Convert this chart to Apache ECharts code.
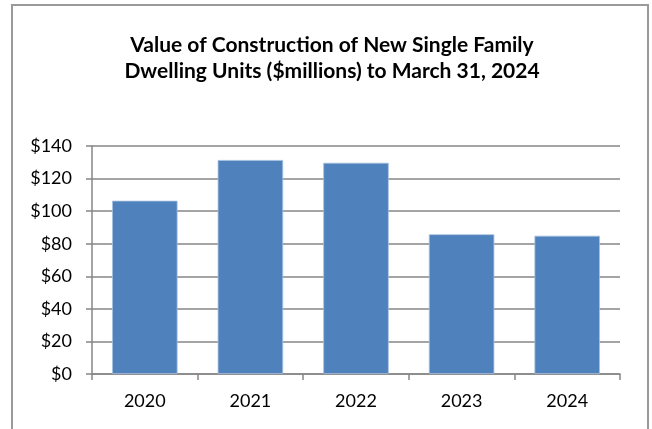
<!DOCTYPE html>
<html>
<head>
<meta charset="utf-8">
<script src="https://cdn.jsdelivr.net/npm/echarts@6/dist/echarts.min.js"></script>
<style>
  html, body { margin: 0; padding: 0; background: #fff; }
  #chart { width: 652px; height: 429px; }
</style>
</head>
<body>
<div id="chart"></div>
<script>
// Annual value of new single family dwelling construction, $ millions
const years = ['2020', '2021', '2022', '2023', '2024'];
const values = [106.4, 131.4, 129.7, 85.8, 84.9];
const yTicks = [0, 20, 40, 60, 80, 100, 120, 140];

const font = 'Lato, "Liberation Sans", sans-serif';
const chart = echarts.init(document.getElementById('chart'), null, { renderer: 'canvas' });

chart.setOption({
  animation: false,
  backgroundColor: '#ffffff',
  graphic: [{
    type: 'rect',
    shape: { x: 12, y: 5, width: 636, height: 450 },
    style: { fill: 'none', stroke: '#9a9a9a', lineWidth: 2 },
    silent: true,
    z: -1
  }],
  title: {
    text: 'Value of Construction of New Single Family\nDwelling Units ($millions) to March 31, 2024',
    left: 327,
    top: 27,
    textAlign: 'center',
    textStyle: {
      fontFamily: font,
      fontSize: 21,
      fontWeight: 'bold',
      color: '#000',
      lineHeight: 26
    }
  },
  grid: { left: 92, right: 32, top: 146, bottom: 55, containLabel: false },
  xAxis: {
    type: 'category',
    data: years,
    axisLine: { show: true, lineStyle: { color: '#868686', width: 1.5 } },
    axisTick: { show: true, length: 6, inside: false, lineStyle: { color: '#868686', width: 1.5 } },
    axisLabel: { fontFamily: font, fontSize: 18, color: '#000', margin: 18 }
  },
  yAxis: {
    type: 'value',
    min: yTicks[0],
    max: yTicks[yTicks.length - 1],
    interval: 20,
    axisLine: { show: true, lineStyle: { color: '#868686', width: 1.5 } },
    axisTick: { show: true, length: 6, lineStyle: { color: '#868686', width: 1.5 } },
    splitLine: { show: true, lineStyle: { color: '#868686', width: 1.5 } },
    axisLabel: {
      fontFamily: font, fontSize: 18, color: '#000', margin: 20,
      formatter: v => '$' + v
    }
  },
  series: [{
    type: 'bar',
    data: values,
    barCategoryGap: '38%',
    itemStyle: { color: '#4f81bd', borderColor: '#a7c0de', borderWidth: 0.8 }
  }]
});
</script>
</body>
</html>
